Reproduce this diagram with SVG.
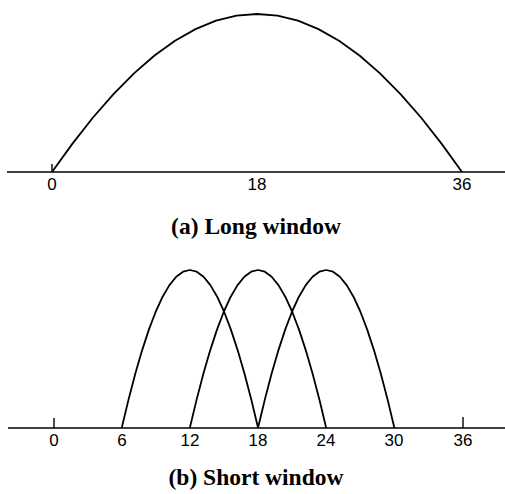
<svg xmlns="http://www.w3.org/2000/svg" width="505" height="494" viewBox="0 0 505 494">
<style>
.ax{stroke:#000;stroke-width:1.4;fill:none}
.cv{stroke:#000;stroke-width:1.8;fill:none;stroke-linejoin:round}
.num{font-family:"Liberation Sans",Arial,sans-serif;font-size:17px;text-anchor:middle;fill:#000}
.cap{font-family:"Liberation Serif","Times New Roman",serif;font-size:23.5px;font-weight:bold;text-anchor:middle;fill:#000}
</style>
<defs>
<path id="hump" d="M0,428 L6.82,399.6 L13.64,373.5 L20.46,350.1 L27.28,329.4 L34.1,311.5 L40.92,296.7 L47.74,285.1 L54.56,276.7 L61.38,271.7 L68.2,270 L75.02,271.7 L81.84,276.7 L88.66,285.1 L95.48,296.7 L102.3,311.5 L109.12,329.4 L115.94,350.1 L122.76,373.5 L129.58,399.6 L136.4,428"/>
</defs>
<g id="panel-a">
<g id="axis-a">
<line class="ax" x1="7" y1="172" x2="505" y2="172"/>
<line class="ax" x1="52" y1="164" x2="52" y2="172"/>
</g>
<path id="long-window" class="cv" d="M52,172 L72.5,143.6 L93,117.5 L113.5,94.1 L134,73.4 L154.5,55.5 L175,40.7 L195.5,29.1 L216,20.7 L236.5,15.7 L257,14 L277.5,15.7 L298,20.7 L318.5,29.1 L339,40.7 L359.5,55.5 L380,73.4 L400.5,94.1 L421,117.5 L441.5,143.6 L462,172"/>
<g id="labels-a">
<text class="num" x="52" y="189.5">0</text>
<text class="num" x="257" y="189.5">18</text>
<text class="num" x="462" y="189.5">36</text>
</g>
<text id="caption-a" class="cap" x="256" y="234">(a) Long window</text>
</g>
<g id="panel-b">
<g id="axis-b">
<line class="ax" x1="8" y1="428" x2="505" y2="428"/>
<line class="ax" x1="54" y1="418" x2="54" y2="428"/>
<line class="ax" x1="463" y1="417" x2="463" y2="428"/>
</g>
<g id="short-windows">
<use href="#hump" class="cv" transform="translate(121.7,0)"/>
<use href="#hump" class="cv" transform="translate(189.8,0)"/>
<use href="#hump" class="cv" transform="translate(258,0)"/>
</g>
<g id="labels-b">
<text class="num" x="54" y="445.5">0</text>
<text class="num" x="122" y="445.5">6</text>
<text class="num" x="190" y="445.5">12</text>
<text class="num" x="258" y="445.5">18</text>
<text class="num" x="326" y="445.5">24</text>
<text class="num" x="394" y="445.5">30</text>
<text class="num" x="463" y="445.5">36</text>
</g>
<text id="caption-b" class="cap" x="256" y="485">(b) Short window</text>
</g>
</svg>
